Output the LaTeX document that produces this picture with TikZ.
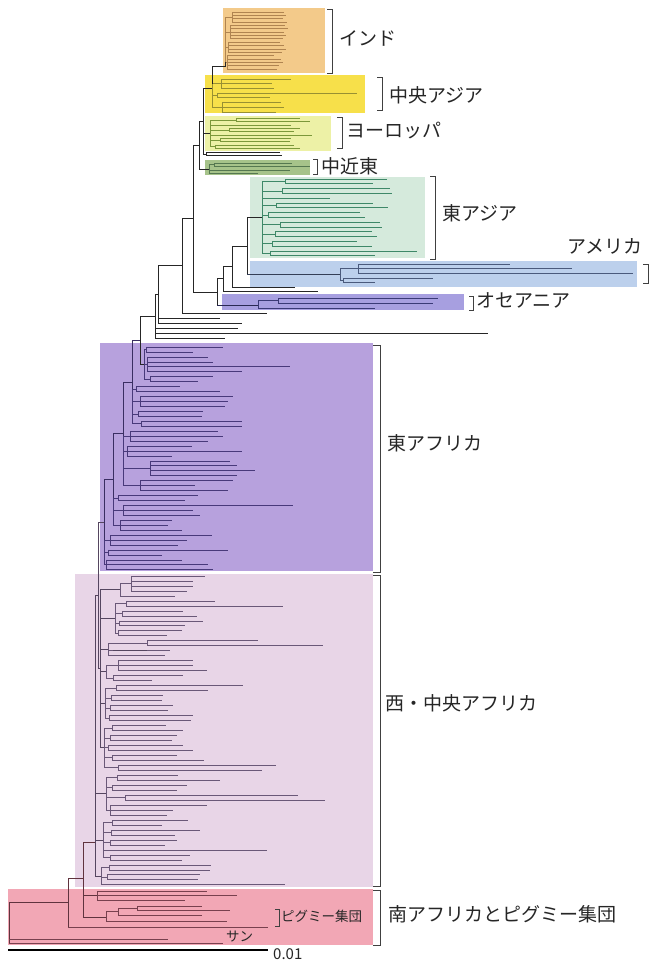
\documentclass[tikz,border=0pt]{standalone}
\usepackage{fontspec}
\newfontfamily\jpfont{Noto Sans CJK JP}

% region fills
\definecolor{indBox}{HTML}{F3CA8A}
\definecolor{casBox}{HTML}{F7E04A}
\definecolor{eurBox}{HTML}{EDF1A6}
\definecolor{mdeBox}{HTML}{A6C38A}
\definecolor{easBox}{HTML}{D5EADC}
\definecolor{ameBox}{HTML}{BCD0EC}
\definecolor{oceBox}{HTML}{A79FE0}
\definecolor{eafBox}{HTML}{B7A1DD}
\definecolor{wcfBox}{HTML}{E8D5E7}
\definecolor{souBox}{HTML}{F2A7B5}
% branch colours
\definecolor{indLine}{HTML}{B08450}
\definecolor{casLine}{HTML}{989032}
\definecolor{eurLine}{HTML}{7C983A}
\definecolor{mdeLine}{HTML}{557850}
\definecolor{easLine}{HTML}{3E8868}
\definecolor{ameLine}{HTML}{4A5A7C}
\definecolor{oceLine}{HTML}{3A3A76}
\definecolor{eafLine}{HTML}{48397A}
\definecolor{wcfLine}{HTML}{6A5878}
\definecolor{souLine}{HTML}{78404E}

\tikzset{
  leaf/.style={line width=0.65pt},
  bk/.style={line width=1pt, draw=black!85},
  lnInd/.style={leaf, draw=indLine},
  lnCas/.style={leaf, draw=casLine},
  lnEur/.style={leaf, draw=eurLine},
  lnMde/.style={leaf, draw=mdeLine},
  lnEas/.style={leaf, draw=easLine},
  lnAme/.style={leaf, draw=ameLine},
  lnOce/.style={leaf, draw=oceLine},
  lnEaf/.style={leaf, draw=eafLine},
  lnWcf/.style={leaf, draw=wcfLine},
  lnSou/.style={leaf, draw=souLine},
  stemEaf/.style={line width=0.85pt, draw=eafLine!80!black},
  stemWcf/.style={line width=0.85pt, draw=wcfLine!80!black},
  stemSou/.style={line width=0.85pt, draw=souLine!80!black},
  brk/.style={line width=0.9pt, draw=black!75},
  lab/.style={font=\jpfont\fontsize{19}{19}\selectfont, text=black!85, inner sep=0pt, anchor=west},
  smalllab/.style={lab, font=\jpfont\fontsize{13.5}{13.5}\selectfont},
}

% A clade: leaves are stacked from #3 with spacing #4; each group gx/{ends}
% starts its leaves at gx and hangs from the spine at x = #2.
\newcounter{leafno}
\newcommand\clade[5]{%
  \setcounter{leafno}{0}%
  \gdef\cladetop{}%
  \foreach \gx/\ends in {#5}{%
    \pgfmathsetmacro\ga{#3+\number\value{leafno}*#4}%
    \foreach \e in \ends{%
      \pgfmathsetmacro\ly{#3+\number\value{leafno}*#4}%
      \draw[#1] (\gx,\ly) -- (\e,\ly);%
      \stepcounter{leafno}%
    }%
    \pgfmathsetmacro\gb{#3+(\number\value{leafno}-1)*#4}%
    \pgfmathsetmacro\gm{(\ga+\gb)/2}%
    \draw[#1] (\gx,\ga) -- (\gx,\gb) (#2,\gm) -- (\gx,\gm);%
    \ifx\cladetop\empty\xdef\cladetop{\gm}\fi
    \xdef\cladebot{\gm}%
  }%
  \draw[#1] (#2,\cladetop) -- (#2,\cladebot);%
}
\newcommand\keepmid[1]{\pgfmathsetmacro#1{(\cladetop+\cladebot)/2}}
% ladder step: joins the previous node (x = #2) to the spine #3 of the clade just drawn
\newcommand\chainlink[3]{%
  \draw[#1] (#2,\chainmid) -- (#3,\chainmid) -- (#3,\cladetop);%
  \pgfmathsetmacro\chainmid{(\chainmid+\cladebot)/2}%
}
\newcommand\bracket[4]{\draw[brk] (#1,#2) -- (#4,#2) -- (#4,#3) -- (#1,#3);}

\begin{document}
\begin{tikzpicture}[x=1pt,y=-1pt]
\useasboundingbox (0,0) rectangle (653,962);
\fill[white] (0,0) rectangle (653,962);

% ---------- coloured regions ----------
\fill[indBox] (223,8) rectangle (325,73);
\fill[casBox] (205,75) rectangle (365,113);
\fill[eurBox] (205,116) rectangle (331,151);
\fill[mdeBox] (205,160) rectangle (310,175);
\fill[easBox] (250,177) rectangle (425,258);
\fill[ameBox] (250,261) rectangle (637,287);
\fill[oceBox] (222,294) rectangle (464,310);
\fill[eafBox] (100,343) rectangle (373,571);
\fill[wcfBox] (75,574) rectangle (373,887);
\fill[souBox] (8,889) rectangle (373,945);

% ---------- Eurasia, America, Oceania ----------
\clade{lnInd}{225}{12}{3.35}{232/{284,286,283,287},230/{285,288,284,286,283},228/{280,284,286,282},227/{274,281,283,279,277}}
\draw[bk] (225,\cladebot) -- (225,66) -- (212,66);
\clade{lnCas}{212}{79}{4.7}{221/{291,272,274},217/{357,270},222/{281,284,276}}
\draw[bk] (212,66) -- (212,\cladetop);
\draw[bk] (203,88) -- (212,88);
\clade{lnEur}{210}{118.5}{3.3}{236/{300,310},232/{291},229/{300,294},224/{312},220/{291,290},215/{294,300}}
\draw[bk] (203,133) -- (210,133);
\draw[bk] (203,154) -- (206,154) (206,152.3) -- (206,155.7);
\draw[bk, line width=0.7pt] (206,152.3) -- (280,152.3) (206,155.7) -- (282,155.7);
\draw[bk] (203,88) -- (203,154);
\draw[bk] (203,121) -- (199,121) -- (199,169) -- (209,169);
\clade{lnMde}{209}{163}{3.5}{214/{292,310},212/{290},211/{258}}
\draw[bk] (199,145) -- (193,145) -- (193,292) -- (217,292);

\clade{lnEas}{262}{179}{4.8}{285/{387,373},282/{390,392},277/{330},276/{373,388},268/{360,365},280/{380,382},275/{372,377},272/{357,372},270/{417,375}}
\clade{lnAme}{340}{264}{4.7}{358/{510,572,633},343/{433,375}}
\draw[bk] (262,217.4) -- (247,217.4) -- (247,274.6);
\draw[bk, draw=ameLine!70!black] (247,274.6) -- (340,274.6);
\draw[bk] (247,246) -- (232,246) -- (232,287);
\draw[bk, line width=0.7pt] (232,287) -- (295,287);
\draw[bk] (232,266.5) -- (223,266.5) -- (223,291);
\draw[bk, line width=0.7pt] (223,291) -- (318,291);
\draw[bk] (223,278.8) -- (217,278.8) -- (217,305);
\draw[bk, draw=oceLine!70!black] (217,305) -- (258,305);
% Oceania
\draw[lnOce] (258,300.5) -- (258,308) (258,300.5) -- (278,300.5) (278,298) -- (278,303)
  (278,298) -- (438,298) (278,303) -- (433,303) (258,308) -- (375,308);

% backbone towards Africa
\draw[bk] (193,218.5) -- (182,218.5) -- (182,313);
\draw[bk, line width=0.7pt] (182,313) -- (267,313);
\draw[bk] (182,265.8) -- (158,265.8) -- (158,323);
\draw[bk, line width=0.7pt] (158,318) -- (220,318) (158,323) -- (242,323);
\draw[bk] (158,294) -- (155,294) -- (155,338);
\draw[bk, line width=0.7pt] (155,328) -- (238,328) (155,333) -- (488,333) (155,338) -- (225,338);

% ---------- East Africa ----------
\clade{lnEaf}{144}{347}{4.95}{146/{223,193},147/{208,213,290,242},150/{213,198}}
\keepmid\eaA
\draw[bk] (155,316) -- (140,316) -- (140,\eaA) -- (144,\eaA);
\pgfmathsetmacro\chainmid{(316+\eaA)/2}
\clade{lnEaf}{132}{386.6}{4.95}{136/{180,220},140/{233,228,225},138/{203,202},141/{242,242}}
\chainlink{stemEaf}{140}{132}
\clade{lnEaf}{123}{431.15}{4.95}{130/{218,223,208},127/{192,242,172},150/{230,237,255,237},140/{233,195,228}}
\chainlink{stemEaf}{132}{123}
\clade{lnEaf}{113}{495.5}{4.95}{118/{198,185},123/{293,193,200},120/{172,168,182}}
\chainlink{stemEaf}{123}{113}
\clade{lnEaf}{104}{535.1}{4.95}{110/{212,187,178},108/{228,162},106/{182,208,213}}
\chainlink{stemEaf}{113}{104}

% ---------- West and Central Africa ----------
\clade{lnWcf}{120}{576}{4.98}{131/{205,193,193,187},124/{175}}
\keepmid\wcA
\clade{lnWcf}{115}{600.9}{4.98}{126/{215,283},122/{183,197},119/{203,185},118/{182,167}}
\keepmid\wcB
\clade{lnWcf}{108}{640.74}{4.98}{147/{258,323},125/{170},112/{165}}
\keepmid\wcC
\draw[stemWcf] (113,650.7) -- (147,650.7);
\clade{lnWcf}{106}{660.66}{4.98}{118/{193,193,207},113/{183,152}}
\keepmid\wcD
\clade{lnWcf}{105}{685.56}{4.98}{116/{243,208},111/{163,162},110/{173,168},109/{193,191}}
\keepmid\wcE
\clade{lnWcf}{104}{725.4}{4.98}{112/{166,183},110/{177,172},108/{183,193},112/{177,204},118/{276,262}}
\keepmid\wcF
\clade{lnWcf}{106}{775.2}{4.98}{117/{178,220},112/{187,177},125/{298,325},110/{207,173,167}}
\keepmid\wcG
\clade{lnWcf}{103}{820.02}{4.98}{112/{188,162},111/{200,175},110/{177,165},106/{267},110/{190,182}}
\keepmid\wcH
\clade{lnWcf}{101}{864.84}{4.98}{109/{211,210},107/{200,198},104/{285}}
\keepmid\wcI

\draw[stemWcf] (100,\wcA) -- (100,\wcF)
  (100,\wcA) -- (120,\wcA) (100,\wcB) -- (115,\wcB) (100,\wcC) -- (108,\wcC)
  (100,\wcD) -- (106,\wcD) (100,\wcE) -- (105,\wcE) (100,\wcF) -- (104,\wcF);
\pgfmathsetmacro\midBone{(\wcA+\wcF)/2}
\draw[stemWcf] (104,\chainmid) -- (98,\chainmid) -- (98,\midBone) -- (100,\midBone);
\pgfmathsetmacro\midAfr{(\chainmid+\midBone)/2}
\draw[stemWcf] (98,\midAfr) -- (95,\midAfr) -- (95,\wcI) -- (101,\wcI)
  (95,\wcG) -- (106,\wcG) (95,\wcH) -- (103,\wcH);

% ---------- southern Africa and the root ----------
\draw[stemSou] (95,842) -- (83,842) -- (83,917) -- (106,917);
\draw[stemSou] (83,895.5) -- (97,895.5);
\draw[lnSou] (97,891) -- (97,900) (97,891) -- (207,891) (97,895.5) -- (237,895.5) (97,900) -- (185,900);
% pygmy group
\draw[lnSou] (106,911.7) -- (106,921) (106,921) -- (227,921)
  (106,911.7) -- (118,911.7) (118,908.5) -- (118,915) (118,915) -- (202,915)
  (118,908.5) -- (137,908.5) (137,906.5) -- (137,910.5)
  (137,906.5) -- (202,906.5) (137,910.5) -- (230,910.5);
\draw[stemSou] (83,878) -- (68,878) -- (68,927);
\draw[lnSou] (68,927) -- (268,927);
\draw[stemSou] (68,902) -- (9,902) -- (9,943);
\draw[lnSou] (9,939) -- (168,939) (9,943) -- (223,943);

% scale bar
\draw[line width=1.4pt] (8,950) -- (268,950);
\node[lab, font=\jpfont\fontsize{15}{15}\selectfont] (scale) at (273,954) {0.01};

% ---------- brackets and labels ----------
\bracket{327}{9}{73}{332}
\bracket{377}{77}{110}{382}
\bracket{337}{117}{148}{342}
\bracket{313}{159}{174}{317}
\bracket{430}{176}{259}{435}
\bracket{643}{264}{283}{648}
\bracket{469}{296}{310}{473}
\bracket{373}{345}{572}{380}
\bracket{373}{575}{886}{380}
\bracket{373}{890}{945}{380}
\bracket{275}{909}{926}{279}

\node[lab] (india) at (339,38) {インド};
\node[lab] (casia) at (389,95) {中央アジア};
\node[lab] (europe) at (346,131) {ヨーロッパ};
\node[lab] (meast) at (321,166) {中近東};
\node[lab] (easia) at (442,213) {東アジア};
\node[lab] (america) at (567,246) {アメリカ};
\node[lab] (oceania) at (476,300) {オセアニア};
\node[lab] (eafrica) at (387,443) {東アフリカ};
\node[lab] (wcafrica) at (385,703) {西・中央アフリカ};
\node[lab] (safrica) at (388,914) {南アフリカとピグミー集団};
\node[smalllab] (pygmy) at (281,916) {ピグミー集団};
\node[smalllab] (san) at (226,937) {サン};
\end{tikzpicture}
\end{document}
